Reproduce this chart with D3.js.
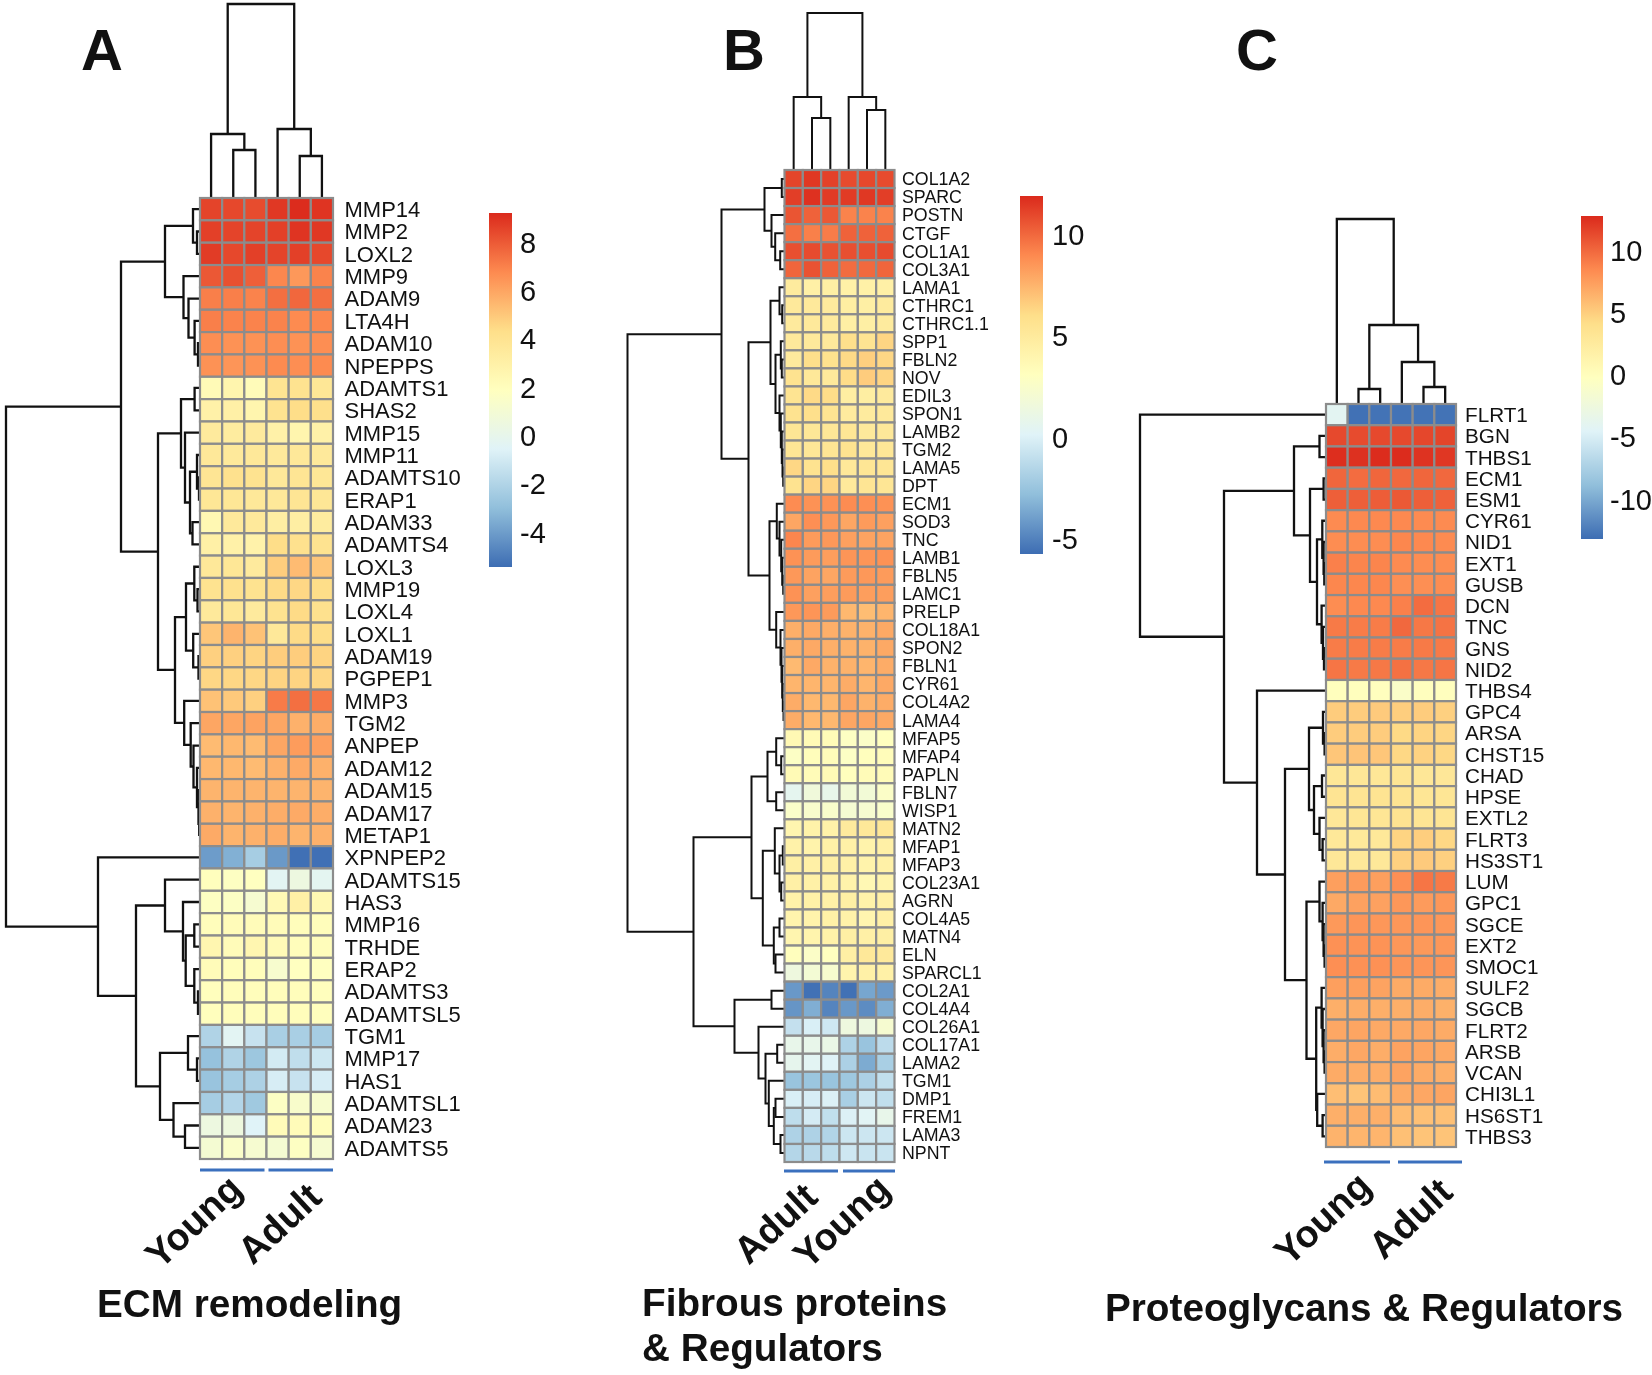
<!DOCTYPE html>
<html><head><meta charset="utf-8">
<script src="https://cdn.jsdelivr.net/npm/d3@7"></script>
<style>html,body{margin:0;background:#fff}svg{display:block;filter:blur(0.45px)}text{font-family:"Liberation Sans",Arial,sans-serif;fill:#111}</style>
</head><body><svg id="c" width="1652" height="1375"></svg>
<script>
const palette = ["#3D6DB3","#91BFDB","#E0F3F8","#FFFFBF","#FEDF8A","#FD8A50","#DB2A1C"];

const rowsA = ["MMP14","MMP2","LOXL2","MMP9","ADAM9","LTA4H","ADAM10","NPEPPS","ADAMTS1","SHAS2","MMP15","MMP11","ADAMTS10","ERAP1","ADAM33","ADAMTS4","LOXL3","MMP19","LOXL4","LOXL1","ADAM19","PGPEP1","MMP3","TGM2","ANPEP","ADAM12","ADAM15","ADAM17","METAP1","XPNPEP2","ADAMTS15","HAS3","MMP16","TRHDE","ERAP2","ADAMTS3","ADAMTSL5","TGM1","MMP17","HAS1","ADAMTSL1","ADAM23","ADAMTS5"];
const valuesA = [
[8.5,8.4,8.3,8.8,9.1,8.9],[8.6,8.5,8.5,8.6,8.9,8.8],[8.7,8.4,8.6,8.5,8.6,8.4],[8.0,8.2,7.8,6.8,6.3,6.9],[7.0,7.0,6.9,7.4,7.6,7.4],[7.0,6.9,6.9,6.9,6.7,6.8],[6.6,6.5,6.5,6.6,6.5,6.6],[6.5,6.4,6.5,6.7,6.6,6.7],
[2.2,2.6,2.1,3.9,4.0,3.7],[2.9,3.0,2.6,4.0,4.3,4.2],[3.4,3.3,3.4,2.9,2.6,2.9],[3.6,3.5,3.6,3.5,3.6,3.5],[3.8,4.1,4.0,3.6,3.8,3.7],[3.7,3.7,3.6,3.6,3.8,3.7],[2.4,3.5,3.5,3.1,3.1,3.3],[3.0,2.9,2.8,4.3,4.1,4.0],
[3.6,3.7,3.4,4.8,5.3,5.0],[4.0,4.1,4.0,4.4,4.5,4.3],[3.5,3.7,3.4,4.0,4.4,4.1],[5.0,5.5,5.1,3.6,4.4,4.3],[4.7,4.7,4.6,4.8,4.8,4.6],[4.5,4.5,4.5,4.6,4.6,4.5],[5.1,4.9,4.7,7.1,7.4,7.2],[5.9,5.9,6.0,5.9,5.6,5.7],[5.3,5.4,5.3,5.9,6.2,6.1],[5.4,5.4,5.3,5.6,5.8,5.6],[5.5,5.5,5.5,5.5,5.5,5.5],[5.6,5.5,5.6,5.7,5.8,5.7],[5.8,5.5,5.6,5.7,5.5,5.6],
[-4.1,-3.5,-2.4,-4.2,-5.4,-5.4],[1.9,1.7,1.8,-0.4,0.4,-0.3],[1.7,1.6,1.1,2.3,3.0,2.4],[2.0,2.1,2.1,2.1,2.0,2.0],[2.5,2.1,2.5,2.2,2.0,2.0],[2.1,2.0,2.0,1.2,1.8,1.8],[1.9,2.0,2.0,2.0,2.0,1.9],[1.9,2.0,2.0,2.0,2.0,1.9],
[-2.1,-0.4,-1.4,-2.3,-2.3,-2.4],[-2.9,-2.1,-2.7,-1.0,-1.6,-1.2],[-2.8,-2.4,-2.2,-0.9,-1.4,-0.9],[-2.4,-2.0,-2.6,1.6,1.3,1.2],[0.4,0.5,-0.6,2.1,2.1,2.0],[1.0,1.4,1.1,1.0,1.7,1.1]];
const treeRowA = [194,
 [79,
  [35,[7,0,[3,0,0]],[16.5,0,[11.5,0,[5.4,0,[2,0,0]]]]],
  [42,
   [19,[5.4,0,0],[15,0,[10,[3,0,[1,0,0]],[7.5,0,0]]]],
   [25,[14,[5.7,0,[2.5,0,0]],[6.8,0,[1.5,0,0]]],[15.8,0,[9.3,0,[6.5,0,[3,0,[1.5,0,[0.8,0,0]]]]]]]]],
 [102,0,[64,[35,0,[17,0,[14.3,[5.7,0,0],[5.7,0,[2,0,0]]]]],[40,[12,0,[3,0,0]],[26.5,0,[15,0,0]]]]]];
const treeColA = [194,[64,0,[48,0,0]],[69,0,[42,0,0]]];
const ticksA = [8,6,4,2,0,-2,-4];
const rangeA = [-5.5,9.16];

const rowsB = ["COL1A2","SPARC","POSTN","CTGF","COL1A1","COL3A1","LAMA1","CTHRC1","CTHRC1.1","SPP1","FBLN2","NOV","EDIL3","SPON1","LAMB2","TGM2","LAMA5","DPT","ECM1","SOD3","TNC","LAMB1","FBLN5","LAMC1","PRELP","COL18A1","SPON2","FBLN1","CYR61","COL4A2","LAMA4","MFAP5","MFAP4","PAPLN","FBLN7","WISP1","MATN2","MFAP1","MFAP3","COL23A1","AGRN","COL4A5","MATN4","ELN","SPARCL1","COL2A1","COL4A4","COL26A1","COL17A1","LAMA2","TGM1","DMP1","FREM1","LAMA3","NPNT"];
const valuesB = [
[11.1,11.5,11.2,10.9,11.0,10.9],[11.3,11.7,11.4,11.4,11.5,11.3],[10.6,10.2,10.5,9.2,9.2,9.2],[9.8,9.3,9.4,10.2,10.2,10.2],[10.8,10.9,10.7,10.8,10.8,10.9],[10.1,10.7,10.2,9.9,10.0,10.1],
[4.9,4.5,4.6,4.4,4.4,4.5],[5.1,5.1,5.0,4.7,4.6,4.9],[5.0,5.1,5.0,4.6,4.6,4.9],[5.1,5.1,5.1,5.9,5.6,6.4],[5.0,6.0,5.8,6.2,6.6,6.3],[5.7,5.2,5.1,6.1,6.7,6.4],[5.6,6.2,6.1,4.7,4.7,5.0],[5.7,5.9,5.6,4.9,4.9,5.1],[5.4,5.3,5.3,5.4,5.1,5.2],[5.4,5.3,5.5,5.7,5.2,5.3],[6.3,5.7,6.0,5.2,5.4,5.4],[5.7,6.4,6.4,5.1,5.5,5.4],
[8.9,8.7,8.7,8.9,8.8,8.7],[8.0,8.8,8.5,8.0,8.4,8.2],[9.1,8.4,8.5,8.2,8.1,8.1],[8.7,8.4,8.3,8.6,8.6,8.7],[8.5,8.1,8.0,8.4,8.5,8.4],[8.7,8.2,8.3,8.4,8.3,8.3],[8.5,8.6,8.4,7.4,7.2,7.5],[7.7,7.9,7.7,7.6,7.6,7.9],[7.7,7.9,7.7,7.6,7.6,7.9],[7.3,7.9,7.6,7.6,7.5,7.8],[7.5,7.5,7.5,7.8,7.5,7.9],[7.8,7.4,7.4,8.0,7.6,7.8],[7.8,7.4,7.4,8.0,8.0,7.9],
[3.7,3.6,3.5,2.9,2.7,3.1],[2.8,3.3,3.4,2.8,3.2,3.4],[3.6,3.5,3.6,3.2,3.5,3.5],[0.6,1.7,0.9,1.9,1.9,2.7],[2.6,2.4,2.5,2.1,2.2,2.5],[4.0,4.3,4.3,5.0,5.2,5.3],[4.3,4.2,4.4,4.4,4.2,4.5],[4.6,4.5,4.6,4.4,4.2,4.4],[4.5,4.4,4.4,4.2,3.7,4.1],[4.3,4.4,4.4,4.6,4.3,4.5],[4.1,4.2,4.4,4.3,4.0,4.5],[4.0,4.1,4.3,4.6,4.5,4.6],[3.2,2.7,3.1,4.6,5.2,5.1],[1.5,2.0,2.3,4.1,4.4,4.4],
[-4.2,-5.6,-4.9,-5.6,-3.7,-4.1],[-4.3,-3.4,-4.9,-4.2,-4.6,-3.4],[-0.9,-0.1,-0.5,1.5,1.4,2.2],[0.9,0.9,1.1,-1.7,-2.5,-1.2],[0.7,0.4,0.1,-1.8,-3.5,-1.9],[-2.5,-2.4,-2.5,-2.3,-1.8,-1.0],[-0.1,-0.2,0,-1.9,-0.6,-1.0],[-1.1,-0.3,-1.0,0,0.3,0.9],[-1.7,-1.7,-1.6,-0.6,-0.6,-0.6],[-1.5,-1.3,-1.1,-0.5,-0.7,-0.7]];
const treeRowB = [157,
 [63,
  [20,[2.7,0,0],[13,0,[9.3,0,[4.3,0,0]]]],
  [36,
   [14,[5,0,[2.3,0,0]],[9,[3.7,0,[2.7,0,0]],[5,0,[3.7,0,[2.7,0,[2,0,[1.3,0,0]]]]]]],
   [15,[7.7,0,[5,0,[3.3,0,[2.3,0,[1.3,0,0]]]]],[8.3,0,[4,0,[3,0,[2.3,0,[1.7,0,[1,0,0]]]]]]]]],
 [91,
  [33,
   [17,[8.3,0,[3.3,0,0]],[8.3,0,0]],
   [21.7,[9.7,0,[5,[1.7,0,0],[3.3,0,0]]],[10.7,[5,0,0],[9,0,0]]]],
  [50,[13,0,0],[26,0,[19,[7.3,0,0],[15.7,0,[10.7,[9,0,0],[4,0,0]]]]]]]];
const treeColB = [157,[73,0,[52,0,0]],[73,0,[60,0,0]]];
const ticksB = [10,5,0,-5];
const rangeB = [-5.73,11.92];

const rowsC = ["FLRT1","BGN","THBS1","ECM1","ESM1","CYR61","NID1","EXT1","GUSB","DCN","TNC","GNS","NID2","THBS4","GPC4","ARSA","CHST15","CHAD","HPSE","EXTL2","FLRT3","HS3ST1","LUM","GPC1","SGCE","EXT2","SMOC1","SULF2","SGCB","FLRT2","ARSB","VCAN","CHI3L1","HS6ST1","THBS3"];
const valuesC = [
[-4.3,-13.2,-13.1,-13.1,-13.1,-13.1],[11.2,11.1,11.2,11.2,11.3,11.4],[12.4,12.3,12.5,12.5,12.2,12.0],[9.9,9.6,9.9,9.8,9.9,9.8],[10.2,10.2,10.3,10.5,10.2,10.1],[8.2,8.3,8.3,8.3,8.2,8.2],[8.1,8.1,8.1,8.4,8.3,8.2],[8.7,8.5,8.5,8.2,8.1,8.1],[8.4,8.4,8.4,8.0,8.0,8.1],[8.1,8.3,8.3,8.7,9.6,9.2],[9.0,8.9,8.9,9.8,9.1,9.3],[8.9,8.9,8.9,8.9,9.0,9.0],[9.2,9.0,9.1,9.4,9.1,9.2],
[-0.2,-0.2,-0.3,-1.1,-0.3,-0.3],[4.9,4.9,5.0,4.8,4.9,4.7],[4.9,4.9,4.9,4.2,4.5,4.4],[5.2,5.3,5.2,4.3,4.6,4.3],[2.9,2.9,2.9,3.1,2.9,2.8],[3.2,3.2,3.3,3.3,3.0,3.0],[2.8,3.0,3.0,3.4,3.1,3.1],[2.7,2.6,2.7,4.5,4.8,4.3],[2.8,2.7,2.7,4.7,5.0,4.7],
[7.2,7.4,7.2,8.0,9.2,9.0],[6.7,7.1,7.1,7.6,7.4,7.6],[7.5,7.7,7.6,7.6,7.7,7.6],[7.9,7.8,7.8,7.6,7.5,7.6],[8.0,7.9,7.9,7.7,7.7,7.7],[7.2,7.2,7.0,6.6,6.6,6.5],[6.4,6.5,6.4,6.4,6.5,6.3],[6.8,6.9,6.7,6.7,6.8,6.6],[6.5,6.8,6.5,7.0,6.9,6.7],[6.6,6.5,6.5,7.0,6.6,6.4],[5.6,5.3,5.7,6.6,6.8,6.9],[6.4,6.4,6.4,5.7,5.5,5.5],[6.2,6.1,6.1,5.5,5.3,5.3]];
const treeRowC = [186,0,
 [102,
  [32,[6.5,0,0],[16,[2.4,0,0],[9,[3.7,0,[2.4,0,[1.7,0,0]]],[4.4,0,[3,0,[2,0,0]]]]]],
  [69,0,
   [41,
    [17,[3,0,[1.4,0,0]],[12,[4,0,0],[6.5,0,[3.4,0,0]]]],
    [19.5,[6.5,0,[3.4,0,[2.4,0,[1.4,0,0]]]],[9.8,[4.4,0,[3.4,0,[2.4,0,[1.4,0,0]]]],[8.8,0,[3.4,0,0]]]]]]]];
const treeColC = [185,0,[79,[15,0,0],[42,0,[17,0,0]]]];
const ticksC = [10,5,0,-5,-10];
const rangeC = [-13.4,12.6];

const groupsAC = ["Young","Adult"];
const groupsB = ["Adult","Young"];

const panels = [
 {letter:"A",lx:81,rows:rowsA,values:valuesA,treeR:treeRowA,treeC:treeColA,ticks:ticksA,range:rangeA,groups:groupsAC,
  hm:[200,333,198,1159],font:22,labelX:344.5,treeW:2.3,bar:[489,512,213,567],barFont:29,barLab:520,barDy:2,
  gy:1170,gx:[[200,264.5],[268.5,333]],gc:[[193,1221],[279,1223]],
  titles:[["ECM remodeling",97,1317]]},
 {letter:"B",lx:723,rows:rowsB,values:valuesB,treeR:treeRowB,treeC:treeColB,ticks:ticksB,range:rangeB,groups:groupsB,
  hm:[784.5,894.5,170,1162],font:17.8,labelX:902,treeW:2,bar:[1020,1043,196,554],barFont:29,barLab:1052,barDy:0,
  gy:1171,gx:[[784,838],[843,895]],gc:[[775,1223],[841,1221]],
  titles:[["Fibrous proteins",642,1316],["& Regulators",642,1361]]},
 {letter:"C",lx:1236,rows:rowsC,values:valuesC,treeR:treeRowC,treeC:treeColC,ticks:ticksC,range:rangeC,groups:groupsAC,
  hm:[1326,1456,404,1147],font:20.7,labelX:1465,treeW:2.3,bar:[1581,1603,216,539],barFont:29,barLab:1610,barDy:3,
  gy:1162,gx:[[1324,1390],[1398,1462]],gc:[[1322,1218],[1410,1218]],
  titles:[["Proteoglycans & Regulators",1105,1321]]}
];

const svg = d3.select("#c");

function layoutTree(node, pos, counter, segs){
  if(node===0){ const p=pos(counter.i++); return {h:0,p}; }
  const a=layoutTree(node[1],pos,counter,segs), b=layoutTree(node[2],pos,counter,segs);
  const h=node[0];
  segs.push({a,b,h});
  return {h,p:(a.p+b.p)/2};
}

panels.forEach(P=>{
  const [x0,x1,y0,y1]=P.hm;
  const g=svg.append("g");
  const n=P.values[0].length;
  const x=d3.scaleBand().domain(d3.range(n)).range([x0,x1]);
  const y=d3.scaleBand().domain(P.rows).range([y0,y1]);
  const [lo,hi]=P.range;
  const color=d3.scaleLinear().domain(palette.map((_,i)=>lo+(hi-lo)*i/(palette.length-1))).range(palette).clamp(true);

  // dendrograms
  const rScale=d3.scaleLinear().domain([0,P.treeR[0]]).range([x0,x0-P.treeR[0]]);
  const segsR=[]; layoutTree(P.treeR,i=>y(P.rows[i])+y.bandwidth()/2,{i:0},segsR);
  const cScale=d3.scaleLinear().domain([0,P.treeC[0]]).range([y0,y0-P.treeC[0]]);
  const segsC=[]; layoutTree(P.treeC,i=>x(i)+x.bandwidth()/2,{i:0},segsC);
  const pathR=d=>{const p=d3.path();p.moveTo(rScale(d.a.h),d.a.p);p.lineTo(rScale(d.h),d.a.p);p.lineTo(rScale(d.h),d.b.p);p.lineTo(rScale(d.b.h),d.b.p);return p.toString();};
  const pathC=d=>{const p=d3.path();p.moveTo(d.a.p,cScale(d.a.h));p.lineTo(d.a.p,cScale(d.h));p.lineTo(d.b.p,cScale(d.h));p.lineTo(d.b.p,cScale(d.b.h));return p.toString();};
  g.append("g").selectAll("path").data(segsR).join("path").attr("d",pathR).attr("fill","none").attr("stroke","#111").attr("stroke-width",P.treeW);
  g.append("g").selectAll("path").data(segsC).join("path").attr("d",pathC).attr("fill","none").attr("stroke","#111").attr("stroke-width",P.treeW);

  // cells
  const cells=P.values.flatMap((r,i)=>r.map((v,j)=>({v,i,j})));
  g.append("g").selectAll("rect").data(cells).join("rect")
    .attr("x",d=>x(d.j)).attr("y",d=>y(P.rows[d.i])).attr("width",x.bandwidth()).attr("height",y.bandwidth())
    .attr("fill",d=>color(d.v)).attr("stroke","#8c8c8c").attr("stroke-width",2.2);

  // row labels
  g.append("g").selectAll("text").data(P.rows).join("text")
    .attr("x",P.labelX).attr("y",d=>y(d)+y.bandwidth()/2).attr("dy","0.36em")
    .attr("font-size",P.font).text(d=>d);

  // colour bar
  const [bx0,bx1,by0,by1]=P.bar;
  const id="grad"+P.letter;
  const grad=svg.append("defs").append("linearGradient").attr("id",id).attr("x1",0).attr("x2",0).attr("y1",1).attr("y2",0);
  palette.forEach((c,i)=>grad.append("stop").attr("offset",i/(palette.length-1)).attr("stop-color",c));
  g.append("rect").attr("x",bx0).attr("y",by0).attr("width",bx1-bx0).attr("height",by1-by0).attr("fill",`url(#${id})`);
  const bs=d3.scaleLinear().domain([lo,hi]).range([by1,by0]);
  const ax=g.append("g").attr("transform",`translate(${P.barLab},${P.barDy})`).call(d3.axisRight(bs).tickValues(P.ticks).tickSize(0).tickPadding(0).tickFormat(d=>String(d)));
  ax.select(".domain").remove();
  ax.selectAll("text").attr("font-size",P.barFont).attr("font-family",'"Liberation Sans",Arial,sans-serif').attr("fill","#111");

  // groups
  P.gx.forEach((s,i)=>{
    g.append("line").attr("x1",s[0]).attr("x2",s[1]).attr("y1",P.gy).attr("y2",P.gy).attr("stroke","#3B70BE").attr("stroke-width",3);
    g.append("text").attr("text-anchor","middle").attr("dy","0.36em").attr("font-weight","bold").attr("font-size",38)
      .attr("transform",`translate(${P.gc[i][0]},${P.gc[i][1]}) rotate(-43)`).text(P.groups[i]);
  });

  // titles & letters
  P.titles.forEach(t=>g.append("text").attr("x",t[1]).attr("y",t[2]).attr("font-weight","bold").attr("font-size",38.7).text(t[0]));
  g.append("text").attr("x",P.lx).attr("y",70).attr("font-weight","bold").attr("font-size",58).attr("fill","#000").text(P.letter);
});
</script></body></html>
